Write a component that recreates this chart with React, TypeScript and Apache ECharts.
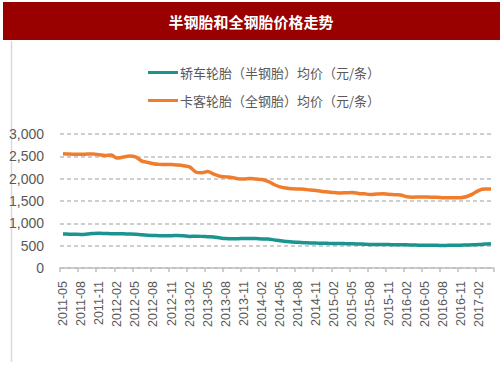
import React, { useEffect, useRef } from "react";
import * as echarts from "echarts";

const months: string[] = [
  "2011-05","2011-06","2011-07","2011-08","2011-09","2011-10","2011-11","2011-12",
  "2012-01","2012-02","2012-03","2012-04","2012-05","2012-06","2012-07","2012-08","2012-09","2012-10","2012-11","2012-12",
  "2013-01","2013-02","2013-03","2013-04","2013-05","2013-06","2013-07","2013-08","2013-09","2013-10","2013-11","2013-12",
  "2014-01","2014-02","2014-03","2014-04","2014-05","2014-06","2014-07","2014-08","2014-09","2014-10","2014-11","2014-12",
  "2015-01","2015-02","2015-03","2015-04","2015-05","2015-06","2015-07","2015-08","2015-09","2015-10","2015-11","2015-12",
  "2016-01","2016-02","2016-03","2016-04","2016-05","2016-06","2016-07","2016-08","2016-09","2016-10","2016-11","2016-12",
  "2017-01","2017-02","2017-03","2017-04",
];

const sedanTire: number[] = [
  760, 758, 755, 752, 760, 772, 776, 772, 768, 768, 765, 761,
  755, 742, 732, 728, 724, 722, 724, 730, 720, 708, 712, 708,
  700, 694, 675, 660, 656, 657, 660, 662, 658, 652, 648, 630,
  610, 595, 582, 575, 568, 562, 558, 555, 552, 550, 548, 545,
  544, 540, 532, 525, 524, 526, 524, 522, 520, 518, 515, 512,
  510, 508, 507, 506, 507, 508, 512, 515, 518, 525, 535, 545,
];

const truckTire: number[] = [
  2560, 2550, 2545, 2545, 2550, 2555, 2535, 2520, 2530, 2460, 2485, 2505,
  2490, 2400, 2365, 2335, 2320, 2315, 2315, 2305, 2290, 2265, 2150, 2130,
  2160, 2100, 2055, 2040, 2025, 2000, 1995, 2005, 1990, 1980, 1940, 1870,
  1815, 1790, 1775, 1770, 1765, 1745, 1735, 1715, 1700, 1690, 1680, 1685,
  1690, 1670, 1660, 1645, 1655, 1665, 1650, 1640, 1635, 1595, 1585, 1590,
  1590, 1585, 1585, 1575, 1570, 1570, 1575, 1600, 1660, 1740, 1770, 1770,
];

const seriesNames: string[] = [
  "轿车轮胎（半钢胎）均价（元/条）",
  "卡客轮胎（全钢胎）均价（元/条）",
];

const titleText = "半钢胎和全钢胎价格走势";

export default function App() {
  const ref = useRef<HTMLDivElement>(null);
  useEffect(() => {
    if (!ref.current) return;
    const chart = echarts.init(ref.current, null, { renderer: "svg" });
    const gray = "#595959";
    chart.setOption({
      animation: false,
      backgroundColor: "#ffffff",
      graphic: [
        {
          type: "rect",
          shape: { x: 3, y: 2, width: 497, height: 38 },
          style: { fill: "#990000" },
        },
        {
          type: "text",
          x: 251,
          y: 21,
          style: {
            text: titleText,
            fill: "#ffffff",
            font: "bold 15px 'Noto Sans CJK SC'",
            textAlign: "center",
            textVerticalAlign: "middle",
          },
        },
        {
          type: "line",
          shape: { x1: 11.5, y1: 41, x2: 11.5, y2: 362 },
          style: { stroke: "#d9d9d9", lineWidth: 1.5 },
        },
      ],
      legend: {
        orient: "vertical",
        left: 143,
        top: 61,
        itemWidth: 30,
        itemHeight: 14,
        itemGap: 15,
        icon: "path://M0,5.5 L30,5.5 L30,8.5 L0,8.5 Z",
        textStyle: {
          color: gray,
          fontSize: 13,
          fontFamily: "'Noto Sans CJK SC'",
          padding: [0, 0, 0, -3],
        },
        data: seriesNames,
      },
      grid: { left: 60, right: 9, top: 134, bottom: 110, containLabel: false },
      xAxis: {
        type: "category",
        data: months,
        boundaryGap: true,
        axisLine: { lineStyle: { color: "#bfbfbf", width: 1.5 } },
        axisTick: {
          show: true,
          interval: 2,
          length: 4,
          lineStyle: { color: "#bfbfbf", width: 1.5 },
        },
        axisLabel: {
          interval: 2,
          rotate: 90,
          color: gray,
          fontSize: 12.5,
          fontFamily: "Arial, 'Liberation Sans'",
          margin: 13,
        },
        splitLine: { show: false },
      },
      yAxis: {
        type: "value",
        min: 0,
        max: 3000,
        interval: 500,
        axisLine: { show: false },
        axisTick: { show: false },
        axisLabel: {
          color: gray,
          fontSize: 14,
          fontFamily: "Arial, 'Liberation Sans'",
          margin: 16,
          formatter: (v: number) => v.toLocaleString("en-US"),
        },
        splitLine: {
          lineStyle: { color: "#bfbfbf", type: [4, 3], width: 1.5 },
        },
      },
      series: [
        {
          name: seriesNames[0],
          type: "line",
          data: sedanTire,
          symbol: "none",
          smooth: 0.3,
          lineStyle: { color: "#1b9490", width: 3.5 },
          itemStyle: { color: "#1b9490" },
        },
        {
          name: seriesNames[1],
          type: "line",
          data: truckTire,
          symbol: "none",
          smooth: 0.3,
          lineStyle: { color: "#f07d2c", width: 3.5 },
          itemStyle: { color: "#f07d2c" },
        },
      ],
    });
    return () => chart.dispose();
  }, []);
  return (
    <div
      ref={ref}
      style={{ position: "fixed", left: 0, top: 0, width: 503, height: 378 }}
    />
  );
}
